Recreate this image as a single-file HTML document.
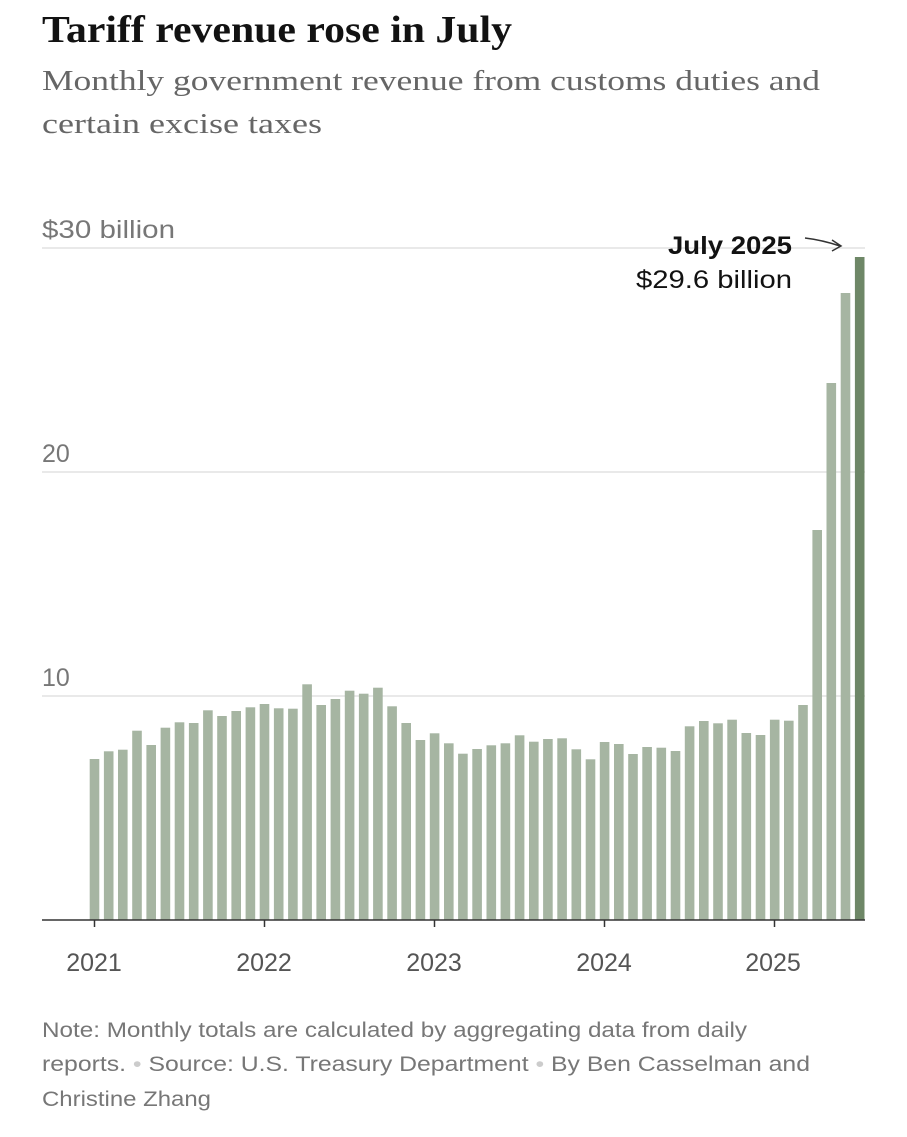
<!DOCTYPE html><html><head><style>body{margin:0;background:#fff;width:907px;height:1132px;overflow:hidden}</style></head><body>
<svg width="907" height="1132" xmlns="http://www.w3.org/2000/svg">
<text x="42" y="42" font-family="Liberation Serif,serif" font-weight="bold" font-size="38" fill="#121212" textLength="470" lengthAdjust="spacingAndGlyphs">Tariff revenue rose in July</text>
<text x="42" y="90" font-family="Liberation Serif,serif" font-size="28" fill="#666" textLength="778" lengthAdjust="spacingAndGlyphs">Monthly government revenue from customs duties and</text>
<text x="42" y="133" font-family="Liberation Serif,serif" font-size="28" fill="#666" textLength="280" lengthAdjust="spacingAndGlyphs">certain excise taxes</text>
<g stroke="#e2e2e2" stroke-width="1.5"><line x1="42" x2="865" y1="248" y2="248"/><line x1="42" x2="865" y1="472" y2="472"/><line x1="42" x2="865" y1="696" y2="696"/></g>
<g font-family="Liberation Sans,sans-serif" font-size="25" fill="#777"><text x="42" y="238" textLength="133" lengthAdjust="spacingAndGlyphs">$30 billion</text><text x="42" y="462">20</text><text x="42" y="686">10</text></g>
<g fill="#a6b5a2">
<rect x="89.7" y="759" width="9.6" height="161"/>
<rect x="103.9" y="751.3" width="9.6" height="168.7"/>
<rect x="118.0" y="749.7" width="9.6" height="170.3"/>
<rect x="132.2" y="730.7" width="9.6" height="189.3"/>
<rect x="146.4" y="745" width="9.6" height="175"/>
<rect x="160.6" y="727.7" width="9.6" height="192.3"/>
<rect x="174.7" y="722.3" width="9.6" height="197.7"/>
<rect x="188.9" y="723" width="9.6" height="197"/>
<rect x="203.1" y="710.3" width="9.6" height="209.7"/>
<rect x="217.2" y="716" width="9.6" height="204"/>
<rect x="231.4" y="711" width="9.6" height="209"/>
<rect x="245.6" y="707.3" width="9.6" height="212.7"/>
<rect x="259.7" y="704" width="9.6" height="216"/>
<rect x="273.9" y="708.3" width="9.6" height="211.7"/>
<rect x="288.1" y="708.7" width="9.6" height="211.3"/>
<rect x="302.3" y="684.3" width="9.6" height="235.7"/>
<rect x="316.4" y="705" width="9.6" height="215"/>
<rect x="330.6" y="699" width="9.6" height="221"/>
<rect x="344.8" y="690.7" width="9.6" height="229.3"/>
<rect x="358.9" y="693.7" width="9.6" height="226.3"/>
<rect x="373.1" y="687.7" width="9.6" height="232.3"/>
<rect x="387.3" y="706.3" width="9.6" height="213.7"/>
<rect x="401.4" y="723" width="9.6" height="197"/>
<rect x="415.6" y="740" width="9.6" height="180"/>
<rect x="429.8" y="733.3" width="9.6" height="186.7"/>
<rect x="444.0" y="743.3" width="9.6" height="176.7"/>
<rect x="458.1" y="753.7" width="9.6" height="166.3"/>
<rect x="472.3" y="749" width="9.6" height="171"/>
<rect x="486.5" y="745.3" width="9.6" height="174.7"/>
<rect x="500.6" y="743.3" width="9.6" height="176.7"/>
<rect x="514.8" y="735.3" width="9.6" height="184.7"/>
<rect x="529.0" y="741.7" width="9.6" height="178.3"/>
<rect x="543.1" y="739" width="9.6" height="181"/>
<rect x="557.3" y="738.3" width="9.6" height="181.7"/>
<rect x="571.5" y="749.3" width="9.6" height="170.7"/>
<rect x="585.7" y="759.3" width="9.6" height="160.7"/>
<rect x="599.8" y="742" width="9.6" height="178"/>
<rect x="614.0" y="744" width="9.6" height="176"/>
<rect x="628.2" y="754" width="9.6" height="166"/>
<rect x="642.3" y="747" width="9.6" height="173"/>
<rect x="656.5" y="747.7" width="9.6" height="172.3"/>
<rect x="670.7" y="751" width="9.6" height="169"/>
<rect x="684.8" y="726.3" width="9.6" height="193.7"/>
<rect x="699.0" y="721" width="9.6" height="199"/>
<rect x="713.2" y="723.3" width="9.6" height="196.7"/>
<rect x="727.3" y="719.7" width="9.6" height="200.3"/>
<rect x="741.5" y="733" width="9.6" height="187"/>
<rect x="755.7" y="735" width="9.6" height="185"/>
<rect x="769.9" y="719.7" width="9.6" height="200.3"/>
<rect x="784.0" y="720.7" width="9.6" height="199.3"/>
<rect x="798.2" y="705" width="9.6" height="215"/>
<rect x="812.4" y="530" width="9.6" height="390"/>
<rect x="826.5" y="383" width="9.6" height="537"/>
<rect x="840.7" y="293" width="9.6" height="627"/>
<rect x="854.9" y="257" width="9.6" height="663" fill="#6e8767"/>
</g>
<line x1="42" x2="865" y1="920" y2="920" stroke="#333" stroke-width="1.5"/>
<g stroke="#333" stroke-width="1.5"><line x1="94.5" x2="94.5" y1="920" y2="927"/><line x1="264.5" x2="264.5" y1="920" y2="927"/><line x1="434.5" x2="434.5" y1="920" y2="927"/><line x1="604.5" x2="604.5" y1="920" y2="927"/><line x1="774.5" x2="774.5" y1="920" y2="927"/></g>
<g font-family="Liberation Sans,sans-serif" font-size="25" fill="#555" text-anchor="middle"><text x="94" y="971">2021</text><text x="264" y="971">2022</text><text x="434" y="971">2023</text><text x="604" y="971">2024</text><text x="773" y="971">2025</text></g>
<text x="792" y="254" text-anchor="end" font-family="Liberation Sans,sans-serif" font-weight="bold" font-size="25" fill="#121212" textLength="124" lengthAdjust="spacingAndGlyphs">July 2025</text>
<text x="792" y="288" text-anchor="end" font-family="Liberation Sans,sans-serif" font-size="25" fill="#121212" textLength="156" lengthAdjust="spacingAndGlyphs">$29.6 billion</text>
<path d="M805 238 Q822 240 840 246 M832 240 L841 246 L832 251" stroke="#333" stroke-width="1.5" fill="none"/>
<g font-family="Liberation Sans,sans-serif" font-size="21" fill="#777"><text x="42" y="1037" textLength="705" lengthAdjust="spacingAndGlyphs">Note: Monthly totals are calculated by aggregating data from daily</text><text x="42" y="1071" textLength="768" lengthAdjust="spacingAndGlyphs">reports. <tspan fill="#ccc">•</tspan> Source: U.S. Treasury Department <tspan fill="#ccc">•</tspan> By Ben Casselman and</text><text x="42" y="1106" textLength="169" lengthAdjust="spacingAndGlyphs">Christine Zhang</text></g>
</svg></body></html>
